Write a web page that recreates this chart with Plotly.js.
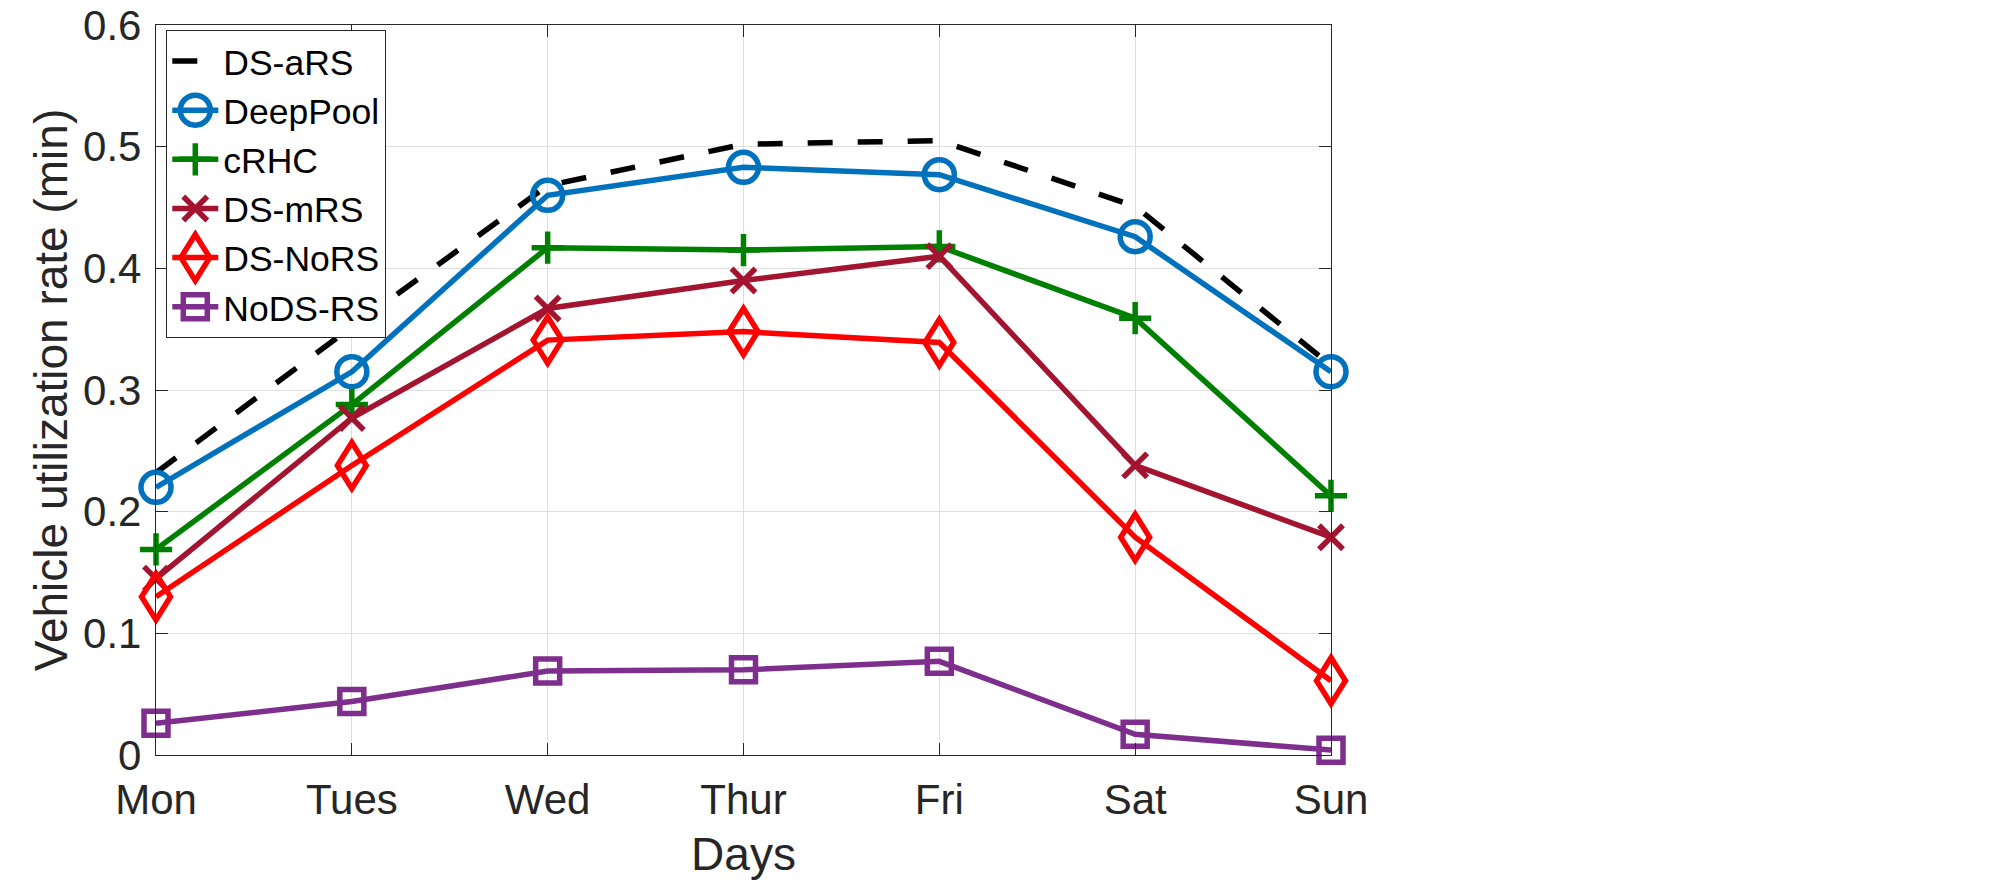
<!DOCTYPE html>
<html>
<head>
<meta charset="utf-8">
<script src="https://cdn.plot.ly/plotly-3.0.1.min.js"></script>
<style>
  html, body { margin: 0; padding: 0; background: #ffffff; }
  #chart { width: 2000px; height: 880px; }
</style>
</head>
<body>
<div id="chart"></div>
<script>
// Weekly vehicle utilization rate for each dispatching / ride-sharing scheme
const days = ['Mon', 'Tues', 'Wed', 'Thur', 'Fri', 'Sat', 'Sun'];

const dsARS   = [0.232, 0.352, 0.468, 0.502, 0.505, 0.451, 0.320];
const deepPool = [0.220, 0.315, 0.460, 0.483, 0.477, 0.426, 0.315];
const cRHC    = [0.169, 0.288, 0.417, 0.415, 0.418, 0.359, 0.213];
const dsMRS   = [0.145, 0.277, 0.367, 0.390, 0.410, 0.238, 0.179];
const dsNoRS  = [0.130, 0.238, 0.341, 0.348, 0.339, 0.179, 0.061];
const noDSRS  = [0.026, 0.044, 0.069, 0.070, 0.077, 0.017, 0.004];

const seriesNames = ['DS-aRS', 'DeepPool', 'cRHC', 'DS-mRS', 'DS-NoRS', 'NoDS-RS'];
const yTicks = [0, 0.1, 0.2, 0.3, 0.4, 0.5, 0.6];
const yTickText = ['0', '0.1', '0.2', '0.3', '0.4', '0.5', '0.6'];

const FONT = 'Liberation Sans, Arial, Helvetica, sans-serif';
const AXIS_COLOR = '#262626';
const LW = 5.5;

function series(name, y, color, symbol, size, dash) {
  const t = {
    type: 'scatter',
    x: days,
    y: y,
    name: name,
    mode: symbol ? 'lines+markers' : 'lines',
    cliponaxis: false,
    line: { color: color, width: LW, dash: dash || 'solid' }
  };
  if (symbol) {
    t.marker = {
      symbol: symbol,
      size: size,
      color: color,
      line: { color: color, width: LW }
    };
  }
  return t;
}

const traces = [
  series(seriesNames[0], dsARS,   '#000000', null, 0, '25px,25px'),
  series(seriesNames[1], deepPool, '#0072BD', 'circle-open', 30),
  series(seriesNames[2], cRHC,    '#008000', 'cross-thin-open', 23),
  series(seriesNames[3], dsMRS,   '#A2142F', 'x-thin-open', 24),
  series(seriesNames[4], dsNoRS,  '#FF0000', 'diamond-tall-open', 33),
  series(seriesNames[5], noDSRS,  '#7E2F8E', 'square-open', 24)
];

// horizontal stretch applied to the tall diamond so it gets a MATLAB-like aspect
const symbolStretchX = { 'diamond-tall-open': 1.25 };

const axisCommon = {
  showgrid: true,
  gridcolor: '#dfdfdf',
  gridwidth: 1,
  showline: true,
  linecolor: AXIS_COLOR,
  linewidth: 1.3,
  mirror: 'ticks',
  ticks: 'inside',
  ticklen: 12,
  tickwidth: 1.3,
  tickcolor: AXIS_COLOR,
  zeroline: false,
  automargin: false,
  ticklabeloverflow: 'allow',
  tickfont: { family: FONT, size: 42, color: AXIS_COLOR }
};

const layout = {
  width: 2000,
  height: 880,
  margin: { l: 156, r: 669, t: 25, b: 125, pad: 0 },
  paper_bgcolor: '#ffffff',
  plot_bgcolor: '#ffffff',
  font: { family: FONT, color: AXIS_COLOR },
  showlegend: true,
  xaxis: Object.assign({}, axisCommon, {
    type: 'category',
    categoryorder: 'array',
    categoryarray: days,
    range: [0, days.length - 1],
    ticklabelstandoff: 7,
    title: { text: 'Days', font: { family: FONT, size: 46, color: AXIS_COLOR }, standoff: 18 }
  }),
  yaxis: Object.assign({}, axisCommon, {
    range: [0, 0.6],
    tickvals: yTicks,
    ticktext: yTickText,
    ticklabelstandoff: 5,
    title: { text: 'Vehicle utilization rate (min)', font: { family: FONT, size: 46, color: AXIS_COLOR }, standoff: 0 }
  }),
  legend: {
    x: 0.0085,
    y: 0.993,
    xanchor: 'left',
    yanchor: 'top',
    bgcolor: '#ffffff',
    bordercolor: AXIS_COLOR,
    borderwidth: 1.3,
    itemwidth: 46,
    tracegroupgap: 0,
    font: { family: FONT, size: 35.5, color: '#000000' }
  }
};

function rescale(p, sx, sy) {
  const base = (p.getAttribute('data-base-transform') !== null)
    ? p.getAttribute('data-base-transform')
    : (p.getAttribute('transform') || '');
  p.setAttribute('data-base-transform', base);
  p.setAttribute('transform', base + ' scale(' + sx + ',' + sy + ')');
  p.style.vectorEffect = 'non-scaling-stroke';
  p.style.strokeWidth = LW + 'px';
}

// Legend symbols are capped at 16px by the library; bring them to the plotted size,
// and widen the diamond markers both in the plot and the legend
function restyleSymbols(gd) {
  gd.querySelectorAll('.legend .traces').forEach(function (item, i) {
    const tr = traces[i];
    if (!tr || !tr.marker) return;
    const k = tr.marker.size / 16;
    const sx = symbolStretchX[tr.marker.symbol] || 1;
    item.querySelectorAll('path.scatterpts').forEach(function (p) { rescale(p, k * sx, k); });
  });
  gd.querySelectorAll('.scatterlayer .trace').forEach(function (g, i) {
    const tr = traces[i];
    if (!tr || !tr.marker) return;
    const sx = symbolStretchX[tr.marker.symbol];
    if (!sx) return;
    g.querySelectorAll('.points path.point').forEach(function (p) { rescale(p, sx, 1); });
  });
}

const gd = document.getElementById('chart');
Plotly.newPlot(gd, traces, layout, { displayModeBar: false, responsive: false }).then(function () {
  restyleSymbols(gd);
  gd.on('plotly_afterplot', function () { restyleSymbols(gd); });
});
</script>
</body>
</html>
